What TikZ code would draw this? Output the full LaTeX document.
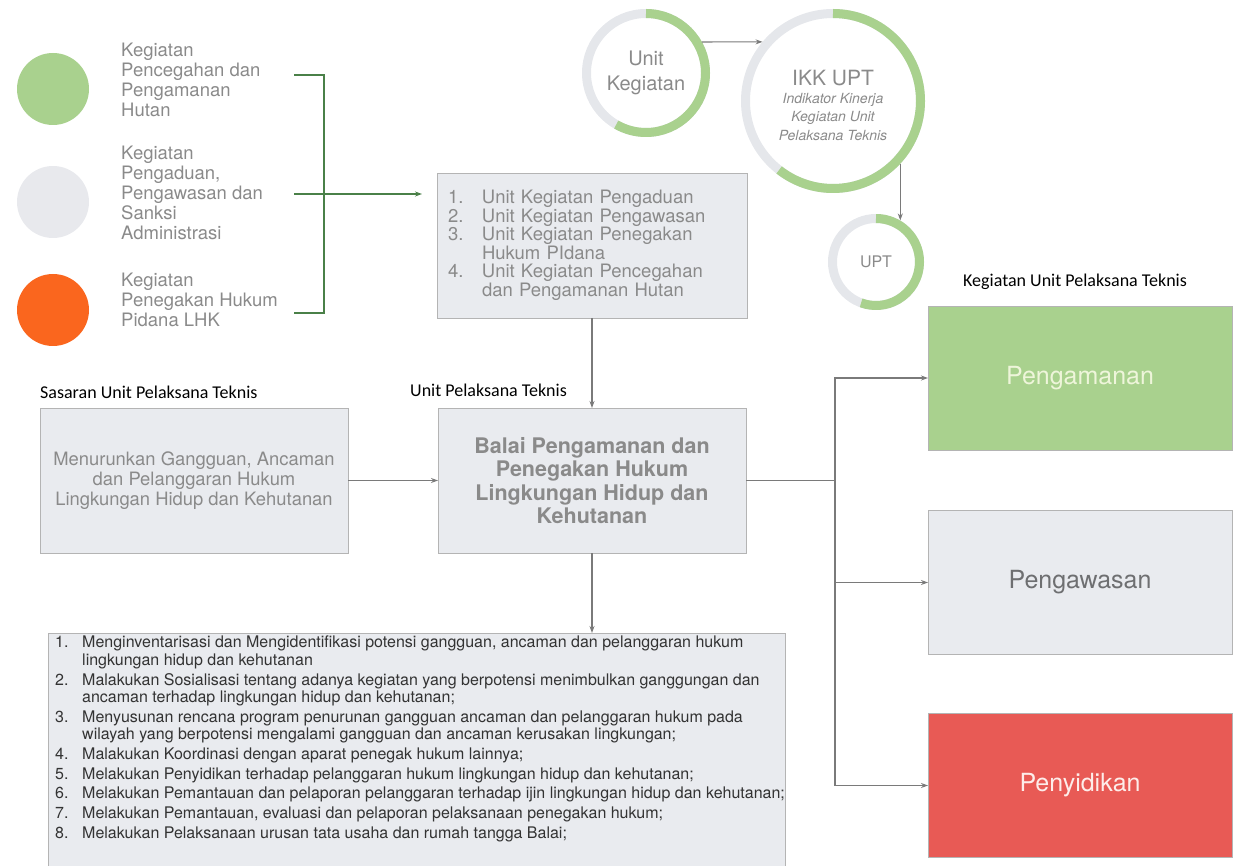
\documentclass[tikz,border=0pt]{standalone}
\usepackage{fontspec}
\setmainfont{TeX Gyre Heros}
\newfontfamily\labelfont{Carlito}
\usetikzlibrary{arrows.meta,positioning,calc}
\definecolor{hijau}{HTML}{A9D18E}
\definecolor{hijaumuda}{HTML}{EEF5DA}
\definecolor{abu}{HTML}{E9EBEF}
\definecolor{abulegenda}{HTML}{E8E9ED}
\definecolor{cincin}{HTML}{E5E7EB}
\definecolor{garis}{HTML}{B4B4B4}
\definecolor{teks}{HTML}{8A8A8A}
\definecolor{teksgelap}{HTML}{6E6F71}
\definecolor{hitam}{HTML}{333333}
\definecolor{oranye}{HTML}{FA661E}
\definecolor{merah}{HTML}{E85A55}
\definecolor{putihmerah}{HTML}{FDEDEA}
\definecolor{panah}{HTML}{7A7A7A}
\definecolor{hijautua}{HTML}{4A8048}
\begin{document}
\begin{tikzpicture}[x=1pt,y=-1pt,>={Stealth[length=7pt,width=5pt]},
    kotak/.style={rectangle,draw=garis,line width=0.8pt,fill=abu,inner sep=0pt,outer sep=0pt,
        minimum width=308pt,minimum height=145pt,text=teks},
    besar/.style={kotak,minimum width=304pt,minimum height=144pt,font=\fontsize{25}{28}\selectfont},
    bulat/.style={circle,inner sep=0pt,outer sep=0pt,text=teks,align=center},
    tanda/.style={circle,inner sep=0pt,minimum size=72pt},
    ket/.style={anchor=north west,inner sep=0pt,align=left,text=teks,font=\fontsize{18.5}{20}\selectfont},
    judul/.style={anchor=west,inner sep=0pt,font=\labelfont\fontsize{18}{20}\selectfont},
    conn/.style={->,draw=panah,line width=1.1pt},
    kurung/.style={draw=hijautua,line width=1.2pt},
    cincinabu/.style={draw=cincin,line width=9pt},
    cincinhijau/.style={draw=hijau,line width=9pt}]
    \useasboundingbox (0,0) rectangle (1234,866);
    %legenda
    \node[tanda,fill=hijau] (lg1) at (53,89) {};
    \node[tanda,fill=abulegenda] (lg2) at (53,202) {};
    \node[tanda,fill=oranye] (lg3) at (53,310) {};
    \node[ket] (kt1) at (121,43) {Kegiatan\\Pencegahan dan\\Pengamanan\\Hutan};
    \node[ket] (kt2) at (121,146) {Kegiatan\\Pengaduan,\\Pengawasan dan\\Sanksi\\Administrasi};
    \node[ket] (kt3) at (121,273) {Kegiatan\\Penegakan Hukum\\Pidana LHK};
    \coordinate (k1) at (294,75);
    \coordinate (k2) at (294,194);
    \coordinate (k3) at (294,313);
    \coordinate (kv) at (324,194);
    %lingkaran
    \node[bulat,minimum size=128pt,font=\fontsize{20}{25}\selectfont] (uk) at (646,73) {Unit\\Kegiatan};
    \node[bulat,minimum size=184pt] (ikk) at (833,101) {};
    \node[inner sep=0pt,text=teks,font=\fontsize{21}{24}\selectfont] (ikkjudul) at (833,78) {IKK UPT};
    \node[inner sep=0pt,text=teks,align=center,font=\itshape\fontsize{14}{18.5}\selectfont] (ikkket) at (833,117) {Indikator Kinerja\\Kegiatan Unit\\Pelaksana Teknis};
    \node[bulat,minimum size=96pt,font=\fontsize{16}{18}\selectfont] (upt) at (876,262) {UPT};
    \draw[cincinabu] (uk.center) circle[radius=59.5];
    \draw[cincinhijau] ($(uk.center)+(0,-59.5)$) arc[start angle=-90,end angle=120,radius=59.5];
    \draw[cincinabu] (ikk.center) circle[radius=87.5];
    \draw[cincinhijau] ($(ikk.center)+(0,-87.5)$) arc[start angle=-90,end angle=128,radius=87.5];
    \draw[cincinabu] (upt.center) circle[radius=43.5];
    \draw[cincinhijau] ($(upt.center)+(0,-43.5)$) arc[start angle=-90,end angle=110,radius=43.5];
    %kotak
    \node[kotak,minimum width=310pt,text width=288pt,inner xsep=11pt,align=left,
        font=\fontsize{18.5}{18.5}\selectfont] (unitkeg) at (592,245.5)
        {\makebox[34pt][l]{1.}Unit Kegiatan Pengaduan\\
         \makebox[34pt][l]{2.}Unit Kegiatan Pengawasan\\
         \makebox[34pt][l]{3.}Unit Kegiatan Penegakan\\
         \hspace*{34pt}Hukum PIdana\\
         \makebox[34pt][l]{4.}Unit Kegiatan Pencegahan\\
         \hspace*{34pt}dan Pengamanan Hutan};
    \node[kotak,align=center,font=\fontsize{18.4}{20}\selectfont] (sasaran) at (194,480.5)
        {Menurunkan Gangguan, Ancaman\\dan Pelanggaran Hukum\\Lingkungan Hidup dan Kehutanan};
    \node[kotak,align=center,font=\bfseries\fontsize{21.5}{23.5}\selectfont] (balai) at (592,480.5)
        {Balai Pengamanan dan\\Penegakan Hukum\\Lingkungan Hidup dan\\Kehutanan};
    \node[kotak,minimum width=737pt,minimum height=245pt,anchor=north west] (daftar) at (48,633) {};
    \node[anchor=north west,inner sep=0pt,align=left,text=hitam,font=\fontsize{16}{17.5}\selectfont] (tugas) at (55,636)
        {\makebox[27pt][l]{1.}Menginventarisasi dan Mengidentifikasi potensi gangguan, ancaman dan pelanggaran hukum\\
         \hspace*{27pt}lingkungan hidup dan kehutanan\\[2.2pt]
         \makebox[27pt][l]{2.}Malakukan Sosialisasi tentang adanya kegiatan yang berpotensi menimbulkan ganggungan dan\\
         \hspace*{27pt}ancaman terhadap lingkungan hidup dan kehutanan;\\[2.2pt]
         \makebox[27pt][l]{3.}Menyusunan rencana program penurunan gangguan ancaman dan pelanggaran hukum pada\\
         \hspace*{27pt}wilayah yang berpotensi mengalami gangguan dan ancaman kerusakan lingkungan;\\[2.2pt]
         \makebox[27pt][l]{4.}Malakukan Koordinasi dengan aparat penegak hukum lainnya;\\[2.2pt]
         \makebox[27pt][l]{5.}Melakukan Penyidikan terhadap pelanggaran hukum lingkungan hidup dan kehutanan;\\[2.2pt]
         \makebox[27pt][l]{6.}Melakukan Pemantauan dan pelaporan pelanggaran terhadap ijin lingkungan hidup dan kehutanan;\\[2.2pt]
         \makebox[27pt][l]{7.}Melakukan Pemantauan, evaluasi dan pelaporan pelaksanaan penegakan hukum;\\[2.2pt]
         \makebox[27pt][l]{8.}Melakukan Pelaksanaan urusan tata usaha dan rumah tangga Balai;};
    \node[besar,fill=hijau,text=hijaumuda] (aman) at (1080,378) {Pengamanan};
    \node[besar,text=teksgelap] (awas) at (1080,582.5) {Pengawasan};
    \node[besar,fill=merah,text=putihmerah] (sidik) at (1080,785.5) {Penyidikan};
    %judul
    \node[judul] (lsas) at (40,392) {Sasaran Unit Pelaksana Teknis};
    \node[judul] (lupt) at (410,390) {Unit Pelaksana Teknis};
    \node[judul] (lkeg) at (963,282) {Kegiatan Unit Pelaksana Teknis};
    %panah
    \draw[kurung] (k1) -| (kv) |- (k3);
    \draw[kurung,->,shorten >=15pt] (k2) -- (k2 -| unitkeg.west);
    \draw[conn] (uk.29) -- (ikk.140);
    \draw[conn] (ikk.-43) -- (ikk.-43 |- upt.60);
    \draw[conn] (unitkeg.south) -- (balai.north);
    \draw[conn] (sasaran.east) -- (balai.west);
    \draw[conn] (balai.south) -- (balai.south |- daftar.north);
    \coordinate (cabang) at (835,480.5);
    \draw[draw=panah,line width=1.1pt] (balai.east) -- (cabang);
    \draw[conn] (cabang) |- (aman.west);
    \draw[conn] (cabang) |- (awas.west);
    \draw[conn] (cabang) |- (sidik.west);
\end{tikzpicture}
\end{document}
